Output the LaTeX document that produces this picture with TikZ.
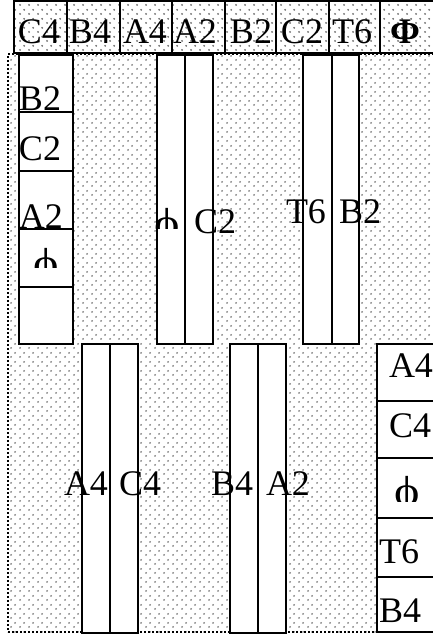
\documentclass[tikz,border=0pt]{standalone}
\usepackage{fontspec}
\setmainfont{Liberation Serif}
\usetikzlibrary{patterns.meta}
\tikzdeclarepattern{
  name=dotfill, type=uncolored,
  bounding box={(0pt,0pt) and (9pt,9pt)},
  tile size={(9pt,9pt)},
  code={\fill (2.25pt,2.25pt) circle (1.1pt); \fill (6.75pt,6.75pt) circle (1.1pt);}
}
\tikzset{
  cellbox/.style={draw, line width=2pt, fill=white, inner sep=0pt, outer sep=0pt},
  topbox/.style={draw, line width=2pt, pattern={dotfill}, pattern color=black!55, inner sep=0pt, outer sep=0pt},
  areabox/.style={draw, line width=2pt, dotted, pattern={dotfill}, pattern color=black!55, inner sep=0pt, outer sep=0pt},
  lbl/.style={inner sep=0pt, outer sep=0pt, font=\fontsize{36}{42}\selectfont},
  philbl/.style={inner sep=0pt, outer sep=0pt, font=\fontsize{42}{48}\selectfont},
}
\newcommand\cellat[6]{\node[#6, minimum width={#4-#2}, minimum height={#5-#3}] (#1) at ({(#2+#4)/2},{(#3+#5)/2}) {};}
% clipped phi: name, x centre, y of stem top, y of cut
\newcommand\cutphi[4]{\begin{scope}\clip ({#2-20},{#3-5}) rectangle ({#2+20},#4);
  \node[philbl, anchor=base, xscale=1.15] (#1) at (#2,{#3+27}) {ϕ};\end{scope}}
\begin{document}
\begin{tikzpicture}[x=1pt,y=-1pt]
\useasboundingbox (0,0) rectangle (433,637);
% background area
\cellat{area}{8}{54}{440}{632}{areabox}
% top row
\cellat{t1}{14}{1}{67}{53}{topbox}
\cellat{t2}{67}{1}{120}{53}{topbox}
\cellat{t3}{120}{1}{172}{53}{topbox}
\cellat{t4}{172}{1}{225}{53}{topbox}
\cellat{t5}{225}{1}{276}{53}{topbox}
\cellat{t6}{276}{1}{329}{53}{topbox}
\cellat{t7}{329}{1}{380}{53}{topbox}
\cellat{t8}{380}{1}{435}{53}{topbox}
\node[lbl, anchor=base] (lt1) at (39,43) {C4};
\node[lbl, anchor=base] (lt2) at (90,43) {B4};
\node[lbl, anchor=base] (lt3) at (145,43) {A4};
\node[lbl, anchor=base] (lt4) at (195,43) {A2};
\node[lbl, anchor=base] (lt5) at (251,43) {B2};
\node[lbl, anchor=base] (lt6) at (302,43) {C2};
\node[lbl, anchor=base] (lt7) at (352,43) {T6};
\node[lbl, anchor=base] (lt8) at (405,43) {\textbf{Φ}};
% left column
\cellat{l1}{19}{55}{73}{112}{cellbox}
\cellat{l2}{19}{112}{73}{171}{cellbox}
\cellat{l3}{19}{171}{73}{229}{cellbox}
\cellat{l4}{19}{229}{73}{287}{cellbox}
\cellat{l5}{19}{287}{73}{344}{cellbox}
\node[lbl, anchor=base west] (ll1) at (19,110) {B2};
\node[lbl, anchor=base west] (ll2) at (19,160) {C2};
\node[lbl, anchor=base west] (ll3) at (19,228) {A2};
\cutphi{ll4}{46}{250}{267}
% pair 1
\cellat{p1a}{157}{55}{185}{344}{cellbox}
\cellat{p1b}{185}{55}{213}{344}{cellbox}
\cutphi{lp1a}{167}{210}{228}
\node[lbl, anchor=base west] (lp1b) at (194,233) {C2};
% pair 2
\cellat{p2a}{303}{55}{332}{344}{cellbox}
\cellat{p2b}{332}{55}{359}{344}{cellbox}
\node[lbl, anchor=base west] (lp2a) at (286,223) {T6};
\node[lbl, anchor=base west] (lp2b) at (339,223) {B2};
% pair 3
\cellat{p3a}{82}{344}{110}{633}{cellbox}
\cellat{p3b}{110}{344}{138}{633}{cellbox}
\node[lbl, anchor=base west] (lp3a) at (64,495) {A4};
\node[lbl, anchor=base west] (lp3b) at (119,495) {C4};
% pair 4
\cellat{p4a}{230}{344}{258}{633}{cellbox}
\cellat{p4b}{258}{344}{286}{633}{cellbox}
\node[lbl, anchor=base west] (lp4a) at (211,495) {B4};
\node[lbl, anchor=base west] (lp4b) at (266,495) {A2};
% right stack
\cellat{r1}{377}{344}{435}{401}{cellbox}
\cellat{r2}{377}{401}{435}{458}{cellbox}
\cellat{r3}{377}{458}{435}{518}{cellbox}
\cellat{r4}{377}{518}{435}{577}{cellbox}
\cellat{r5}{377}{577}{435}{632}{cellbox}
\node[lbl, anchor=base west] (lr1) at (389,377) {A4};
\node[lbl, anchor=base west] (lr2) at (389,437) {C4};
\cutphi{lr3}{407}{478}{501}
\node[lbl, anchor=base west] (lr4) at (379,563) {T6};
\node[lbl, anchor=base west] (lr5) at (379,622) {B4};
\end{tikzpicture}
\end{document}
